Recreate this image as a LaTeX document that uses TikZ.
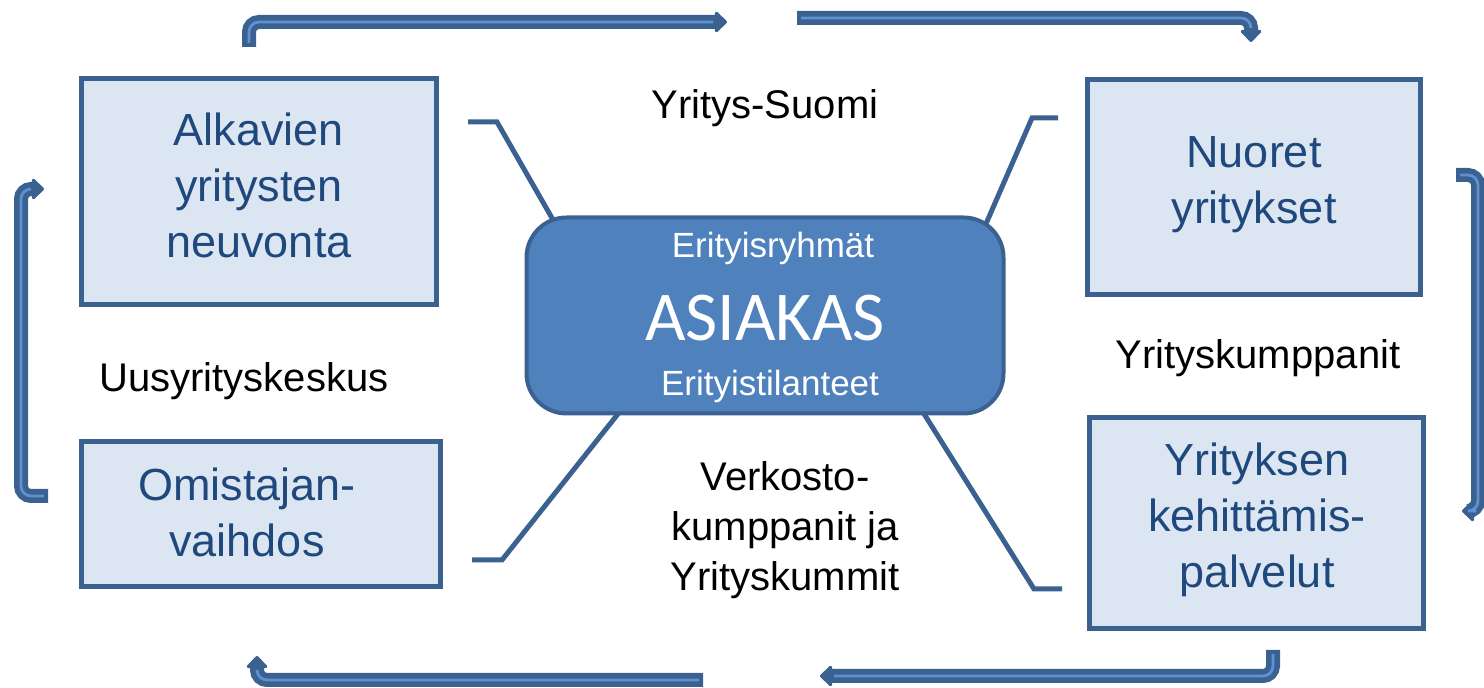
\documentclass[tikz,border=0pt]{standalone}
\usepackage{fontspec}
\setmainfont{Liberation Sans}
\newfontfamily\calib{Carlito}
\usetikzlibrary{arrows.meta,backgrounds}
\definecolor{bdr}{HTML}{3A6190}
\definecolor{cfill}{HTML}{4F81BD}
\definecolor{bfill}{HTML}{DCE6F2}
\definecolor{btext}{HTML}{1F497D}
\definecolor{stripe}{HTML}{5F91D2}
\tikzset{
 box/.style={draw=bdr, line width=2.5pt, fill=bfill, inner sep=0pt},
 boxtxt/.style={text=btext, align=center, font=\fontsize{22.5}{28}\selectfont, inner sep=0pt},
 hub/.style={draw=bdr, line width=2pt, fill=cfill, rounded corners=20pt, minimum width=238.5pt, minimum height=98pt},
 hubtxt/.style={text=white, inner sep=0pt, font=\fontsize{17.5}{21}\selectfont},
 lbl/.style={align=center, font=\fontsize{20}{25}\selectfont, inner sep=0pt},
 link/.style={draw=bdr, line width=2.5pt, shorten >=-4pt},
 flow/.style={draw=bdr, line width=7pt, rounded corners=5pt, -{Triangle[width=12pt,length=6.5pt,round]}},
 flowhi/.style={draw=stripe, line width=1.4pt, rounded corners=5pt, shorten >=7pt, shorten <=2pt},
}
\begin{document}
\begin{tikzpicture}[x=0.5pt,y=-0.5pt]
\useasboundingbox (0,0) rectangle (1484,688);

% boxes
\node[box, minimum width=177.5pt, minimum height=113pt] (alk) at (259,192) {};
\node[boxtxt] (alkt) at (259,185) {Alkavien\\yritysten\\neuvonta};
\node[box, minimum width=179.5pt, minimum height=72.5pt] (omi) at (261,514) {};
\node[boxtxt] (omit) at (247,512) {Omistajan-\\vaihdos};
\node[box, minimum width=166.5pt, minimum height=107.5pt] (nuo) at (1254,187) {};
\node[boxtxt] (nuot) at (1254,185) {Nuoret\\yritykset};
\node[box, minimum width=167pt, minimum height=105.5pt] (keh) at (1256.5,523) {};
\node[boxtxt] (keht) at (1257,520) {Yrityksen\\kehittämis-\\palvelut};

% hub
\node[hub] (c) at (765,315.5) {};
\node[hubtxt] (c1) at (773,248) {Erityisryhmät};
\node[hubtxt, font=\calib\fontsize{35}{40}\selectfont] (c2) at (765,318) {ASIAKAS};
\node[hubtxt] (c3) at (770,386) {Erityistilanteet};

% labels
\node[lbl] (l1) at (765,108) {Yritys-Suomi};
\node[lbl] (l2) at (244,381) {Uusyrityskeskus};
\node[lbl] (l3) at (1258,358) {Yrityskumppanit};
\node[lbl] (l4) at (785,530) {Verkosto-\\kumppanit ja\\Yrityskummit};

% connectors
\coordinate (a1) at (468,122); \coordinate (a2) at (497,122);
\coordinate (b1) at (1058,118); \coordinate (b2) at (1032,118);
\coordinate (d1) at (472,560); \coordinate (d2) at (502,560);
\coordinate (e1) at (1062,589); \coordinate (e2) at (1034,589);
\begin{scope}[on background layer]
\draw[link] (a1) -- (a2) -- (c.155.5);
\draw[link] (b1) -- (b2) -- (c.24.5);
\draw[link] (d1) -- (d2) -- (c.214.6);
\draw[link] (e1) -- (e2) -- (c.328.9);
\end{scope}

% flow arrows
\coordinate (f1a) at (249,47); \coordinate (f1b) at (249,22); \coordinate (f1c) at (727,22);
\coordinate (f2a) at (797,18); \coordinate (f2b) at (1251,18); \coordinate (f2c) at (1251,42);
\coordinate (f3a) at (1456,175); \coordinate (f3b) at (1478,175); \coordinate (f3c) at (1478,511); \coordinate (f3d) at (1462,511);
\coordinate (f4a) at (1273,650); \coordinate (f4b) at (1273,676); \coordinate (f4c) at (820,676);
\coordinate (f5a) at (703,680); \coordinate (f5b) at (257,680); \coordinate (f5c) at (257,656);
\coordinate (f6a) at (48,496); \coordinate (f6b) at (21,496); \coordinate (f6c) at (21,189); \coordinate (f6d) at (44,189);

\draw[flow] (f1a) -- (f1b) -- (f1c);
\draw[flowhi] (f1a) -- (f1b) -- (f1c);
\draw[flow] (f2a) -- (f2b) -- (f2c);
\draw[flowhi] (f2a) -- (f2b) -- (f2c);
\draw[flow] (f3a) -- (f3b) -- (f3c) -- (f3d);
\draw[flowhi] (f3a) -- (f3b) -- (f3c) -- (f3d);
\draw[flow] (f4a) -- (f4b) -- (f4c);
\draw[flowhi] (f4a) -- (f4b) -- (f4c);
\draw[flow] (f5a) -- (f5b) -- (f5c);
\draw[flowhi] (f5a) -- (f5b) -- (f5c);
\draw[flow] (f6a) -- (f6b) -- (f6c) -- (f6d);
\draw[flowhi] (f6a) -- (f6b) -- (f6c) -- (f6d);
\end{tikzpicture}
\end{document}
